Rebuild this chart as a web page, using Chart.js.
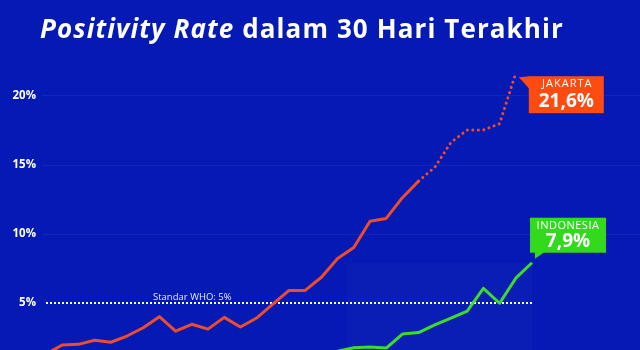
<!DOCTYPE html>
<html>
<head>
<meta charset="utf-8">
<script src="https://cdn.jsdelivr.net/npm/chart.js@4.4.1/dist/chart.umd.min.js"></script>
<style>
  html, body { margin: 0; padding: 0; background: #0519b4; overflow: hidden; }
  #wrap { position: relative; width: 640px; height: 350px; }
  h1 {
    position: absolute; left: 40px; top: 13px; margin: 0;
    font: 700 26px/30px "Open Sans", sans-serif; color: #fff; white-space: nowrap;
    letter-spacing: 1.1px;
  }
  canvas { position: absolute; left: 0; top: 0; }
</style>
</head>
<body>
<div id="wrap">
  <canvas id="chart" width="640" height="350"></canvas>
  <h1><i>Positivity Rate</i> dalam 30 Hari Terakhir</h1>
</div>
<script>
// 31 hari, nilai dalam persen
const days = ['1','2','3','4','5','6','7','8','9','10','11','12','13','14','15','16',
  '17','18','19','20','21','22','23','24','25','26','27','28','29','30','31']

const jakarta = [1.3, 1.95, 2.0, 2.3, 2.15, 2.6, 3.2, 4.0, 2.95, 3.45, 3.1, 3.95, 3.25, 3.9, 4.9,
  5.9, 5.9, 6.85, 8.2, 9.0, 10.9, 11.1, 12.6, 13.8, 14.8, 16.6, 17.5, 17.5, 17.95, 21.6, null]

const indonesia = [1.0, 1.0, 1.0, 1.1, 1.1, 1.1, 1.1, 1.2, 1.2, 1.2, 1.2, 1.3, 1.3, 1.3, 1.3,
  1.4, 1.4, 1.4, 1.5, 1.75, 1.8, 1.73, 2.74, 2.85, 3.4, 3.9, 4.4, 6.05, 4.97, 6.78, 7.9]

const yTicks = [5, 10, 15, 20]
const whoLimit = 5
const dottedFrom = 23   // dari titik ini garis Jakarta putus-putus

const fmt = v => v.toFixed(1).replace('.', ',') + '%'

function lastIndex(arr){
  for(let i = arr.length - 1; i >= 0; i--){ if(arr[i] !== null) return i }
  return -1
}

const decor = {
  id: 'decor',
  beforeDatasetsDraw(chart){
    const {ctx, chartArea, scales} = chart
    const x = scales.x, y = scales.y
    ctx.save()

    // garis grid tipis
    ctx.strokeStyle = 'rgba(255,255,255,0.06)'
    ctx.lineWidth = 1
    yTicks.forEach(v => {
      if(v === whoLimit) return
      const py = Math.round(y.getPixelForValue(v)) + 0.5
      ctx.beginPath(); ctx.moveTo(42, py); ctx.lineTo(chart.width, py); ctx.stroke()
    })

    // area terang di bawah Indonesia
    const li = lastIndex(indonesia)
    const rx0 = x.getPixelForValue(18.6)
    const rx1 = x.getPixelForValue(li)
    const ry = y.getPixelForValue(indonesia[li])
    ctx.fillStyle = 'rgba(255,255,255,0.025)'
    ctx.fillRect(rx0, ry, rx1 - rx0, chartArea.bottom - ry)

    // garis standar WHO
    const wy = Math.round(y.getPixelForValue(whoLimit))
    ctx.fillStyle = '#ffffff'
    for(let px = chartArea.left; px <= rx1; px += 4){
      ctx.fillRect(px, wy - 1, 2, 2)
    }
    ctx.fillStyle = '#e4e8ff'
    ctx.font = '9.5px "Open Sans"'
    ctx.textAlign = 'left'
    ctx.textBaseline = 'alphabetic'
    ctx.fillText('Standar WHO: ' + whoLimit + '%', chartArea.left + 107, wy - 3)
    ctx.restore()
  },
  afterDatasetsDraw(chart){
    const {ctx} = chart
    ctx.save()

    // label Jakarta
    const ji = lastIndex(jakarta)
    const jp = chart.getDatasetMeta(0).data[ji]
    let bx = jp.x + 13, by = jp.y + 3, bw = 75, bh = 37
    ctx.fillStyle = '#fd4b12'
    ctx.fillRect(bx, by, bw, bh)
    ctx.beginPath()
    ctx.moveTo(jp.x + 3, jp.y + 4); ctx.lineTo(bx + 1, by); ctx.lineTo(bx + 1, by + 13); ctx.closePath()
    ctx.fill()
    ctx.fillStyle = '#ffffff'
    ctx.textAlign = 'center'
    ctx.textBaseline = 'middle'
    ctx.letterSpacing = '1px'
    ctx.font = '11px "Open Sans"'
    ctx.fillText('JAKARTA', bx + bw / 2 + 1, by + 8)
    ctx.letterSpacing = '0px'
    ctx.font = 'bold 19px "Open Sans"'
    ctx.fillText(fmt(jakarta[ji]), bx + bw / 2, by + 25)

    // label Indonesia
    const ii = lastIndex(indonesia)
    const ip = chart.getDatasetMeta(1).data[ii]
    bx = ip.x - 2; bw = 76; bh = 35; by = ip.y - 10 - bh
    ctx.fillStyle = '#33d91d'
    ctx.fillRect(bx, by, bw, bh)
    ctx.beginPath()
    ctx.moveTo(bx + 5, by + bh - 1); ctx.lineTo(bx + 15, by + bh - 1); ctx.lineTo(ip.x + 3, ip.y - 4); ctx.closePath()
    ctx.fill()
    ctx.fillStyle = '#ffffff'
    ctx.letterSpacing = '0.5px'
    ctx.font = '11px "Open Sans"'
    ctx.fillText('INDONESIA', bx + bw / 2, by + 8)
    ctx.letterSpacing = '0px'
    ctx.font = 'bold 19px "Open Sans"'
    ctx.fillText(fmt(indonesia[ii]), bx + bw / 2, by + 24)
    ctx.restore()
  }
}

const ctx = document.getElementById('chart').getContext('2d')

new Chart(ctx, {
  type: 'line',
  data: {
    labels: days,
    datasets: [{
      label: 'Jakarta',
      data: jakarta,
      borderColor: '#ee4c2b',
      borderWidth: 3,
      borderCapStyle: 'round',
      borderJoinStyle: 'round',
      pointRadius: 0,
      spanGaps: false,
      segment: {
        borderDash: c => c.p0DataIndex >= dottedFrom ? [0.1, 5.4] : undefined
      }
    }, {
      label: 'Indonesia',
      data: indonesia,
      borderColor: '#3ddc2a',
      borderWidth: 3,
      borderJoinStyle: 'round',
      pointRadius: 0
    }]
  },
  options: {
    responsive: false,
    animation: false,
    layout: { padding: { top: 62, right: 108, bottom: 0, left: 0 } },
    plugins: { legend: { display: false }, tooltip: { enabled: false } },
    scales: {
      x: { display: false },
      y: {
        min: 1.59,
        max: 22.41,
        grid: { display: false },
        border: { display: false },
        afterBuildTicks: s => { s.ticks = yTicks.map(v => ({ value: v })) },
        afterFit: s => { s.width = 46; s.paddingTop = 0; s.paddingBottom = 0 },
        ticks: {
          color: '#ffffff',
          padding: 2,
          font: { family: 'Open Sans', weight: 'bold', size: 11.5 },
          callback: v => v + '%'
        }
      }
    }
  },
  plugins: [decor]
})
</script>
</body>
</html>
